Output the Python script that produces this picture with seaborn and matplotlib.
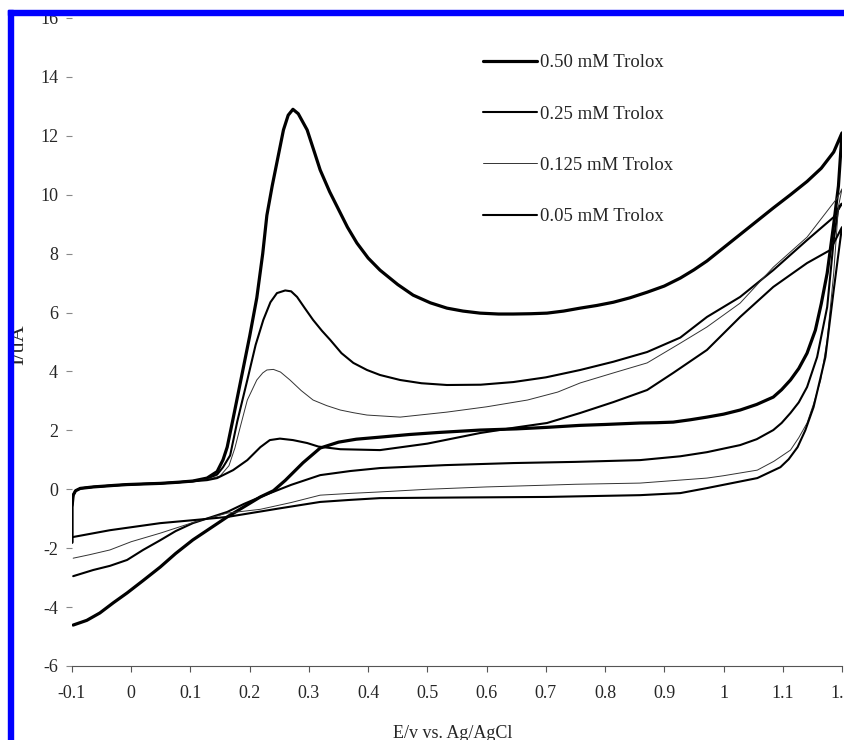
import matplotlib
matplotlib.use("Agg")
import matplotlib.pyplot as plt
import seaborn as sns
import pandas as pd
from matplotlib.lines import Line2D
from matplotlib.patches import Rectangle

sns.set_theme(style="white")
plt.rcParams['font.family'] = ['Liberation Serif', 'DejaVu Serif']

labels = ["0.50 mM Trolox", "0.25 mM Trolox", "0.125 mM Trolox", "0.05 mM Trolox"]

# 0.50 mM: forward (anodic) sweep then reverse
x050 = [-0.1, -0.1, -0.098, -0.094, -0.086, -0.064, -0.03, -0.007, 0.02, 0.049, 0.08, 0.104, 0.128, 0.145,
        0.155, 0.162, 0.172, 0.184, 0.2, 0.212, 0.222, 0.229, 0.238, 0.246, 0.257, 0.265, 0.273, 0.282,
        0.297, 0.31, 0.319, 0.335, 0.348, 0.365, 0.381, 0.40, 0.42, 0.45, 0.476, 0.505, 0.533, 0.56,
        0.589, 0.62, 0.645, 0.675, 0.702, 0.73, 0.758, 0.786, 0.814, 0.842, 0.871, 0.9, 0.927, 0.95,
        0.972, 1.0, 1.028, 1.056, 1.084, 1.113, 1.141, 1.165, 1.186, 1.2,
        1.194, 1.186, 1.175, 1.165, 1.155, 1.141, 1.127, 1.113, 1.098, 1.084, 1.056, 1.028, 1.0, 0.972,
        0.944, 0.915, 0.887, 0.859, 0.8, 0.758, 0.7, 0.65, 0.589, 0.52, 0.47, 0.42, 0.38, 0.35, 0.319,
        0.29, 0.26, 0.24, 0.218, 0.19, 0.162, 0.133, 0.104, 0.075, 0.049, 0.02, -0.007, -0.03, -0.053,
        -0.075, -0.098]
y050 = [-1.8, -0.6, -0.2, -0.05, 0.03, 0.08, 0.13, 0.16, 0.18, 0.2, 0.24, 0.28, 0.38, 0.6,
        1.0, 1.43, 2.4, 3.6, 5.2, 6.5, 8.0, 9.3, 10.3, 11.1, 12.2, 12.7, 12.9, 12.75,
        12.2, 11.4, 10.84, 10.1, 9.58, 8.9, 8.36, 7.85, 7.44, 6.95, 6.59, 6.33, 6.15, 6.05,
        5.98, 5.95, 5.95, 5.96, 5.98, 6.05, 6.15, 6.24, 6.35, 6.5, 6.69, 6.9, 7.17, 7.45,
        7.75, 8.2, 8.65, 9.1, 9.55, 10.0, 10.45, 10.9, 11.45, 12.1,
        10.3, 9.0, 7.34, 6.3, 5.4, 4.62, 4.1, 3.71, 3.38, 3.13, 2.88, 2.69, 2.55, 2.45,
        2.36, 2.28, 2.26, 2.25, 2.2, 2.17, 2.1, 2.05, 2.01, 1.93, 1.86, 1.77, 1.7, 1.6, 1.4,
        0.9, 0.3, -0.05, -0.26, -0.6, -0.94, -1.33, -1.72, -2.18, -2.64, -3.1, -3.52, -3.85, -4.2,
        -4.45, -4.61]

# 0.25 mM
x025 = [-0.1, -0.1, -0.098, -0.094, -0.086, -0.064, -0.03, -0.007, 0.02, 0.049, 0.08, 0.104, 0.128, 0.145,
        0.155, 0.167, 0.179, 0.196, 0.21, 0.223, 0.235, 0.246, 0.26, 0.27, 0.28, 0.293, 0.307, 0.322,
        0.336, 0.355, 0.375, 0.398, 0.42, 0.454, 0.49, 0.533, 0.59, 0.645, 0.7, 0.758, 0.814, 0.871,
        0.927, 0.972, 1.028, 1.084, 1.141, 1.186, 1.2,
        1.194, 1.186, 1.175, 1.158, 1.141, 1.127, 1.113, 1.098, 1.084, 1.056, 1.028, 0.972, 0.927, 0.859,
        0.75, 0.645, 0.53, 0.42, 0.37, 0.319, 0.27, 0.218, 0.19, 0.162, 0.133, 0.104, 0.075, 0.049, 0.02,
        -0.007, -0.036, -0.064, -0.098]
y025 = [-1.8, -0.6, -0.2, -0.05, 0.03, 0.08, 0.13, 0.16, 0.18, 0.2, 0.24, 0.28, 0.36, 0.5,
        0.75, 1.15, 2.3, 3.71, 4.9, 5.75, 6.35, 6.66, 6.75, 6.72, 6.53, 6.15, 5.75, 5.38,
        5.07, 4.62, 4.29, 4.05, 3.88, 3.71, 3.6, 3.54, 3.55, 3.64, 3.8, 4.05, 4.33, 4.66,
        5.15, 5.85, 6.53, 7.44, 8.46, 9.24, 9.7,
        9.58, 8.46, 6.19, 4.49, 3.47, 2.95, 2.59, 2.25, 2.01, 1.7, 1.5, 1.26, 1.12, 0.99,
        0.93, 0.89, 0.82, 0.72, 0.62, 0.48, 0.15, -0.26, -0.5, -0.77, -0.96, -1.15, -1.42, -1.73, -2.06,
        -2.4, -2.6, -2.74, -2.95]

# 0.125 mM
x0125 = [-0.1, -0.1, -0.098, -0.094, -0.086, -0.064, -0.03, -0.007, 0.02, 0.049, 0.08, 0.104, 0.128, 0.15,
         0.165, 0.175, 0.184, 0.196, 0.212, 0.222, 0.229, 0.24, 0.252, 0.268, 0.287, 0.307, 0.33, 0.353,
         0.375, 0.398, 0.454, 0.533, 0.6, 0.669, 0.72, 0.758, 0.814, 0.871, 0.927, 0.972, 1.028, 1.084,
         1.141, 1.192, 1.2,
         1.194, 1.186, 1.175, 1.164, 1.152, 1.141, 1.127, 1.113, 1.085, 1.057, 1.0, 0.972, 0.859, 0.75,
         0.702, 0.6, 0.5, 0.42, 0.37, 0.319, 0.27, 0.218, 0.162, 0.104, 0.049, 0.0, -0.036, -0.07, -0.098]
y0125 = [-1.8, -0.6, -0.2, -0.05, 0.03, 0.08, 0.13, 0.16, 0.18, 0.2, 0.24, 0.28, 0.33, 0.45,
         0.8, 1.4, 2.11, 3.03, 3.71, 3.95, 4.05, 4.07, 3.98, 3.71, 3.35, 3.03, 2.84, 2.69,
         2.6, 2.52, 2.45, 2.62, 2.8, 3.03, 3.3, 3.61, 3.95, 4.29, 4.96, 5.51, 6.32, 7.54,
         8.56, 9.89, 10.2,
         9.6, 7.34, 5.07, 3.71, 2.9, 2.25, 1.75, 1.33, 0.95, 0.65, 0.46, 0.38, 0.21, 0.17,
         0.14, 0.08, 0.0, -0.09, -0.14, -0.2, -0.45, -0.68, -0.81, -1.13, -1.49, -1.78, -2.06, -2.22, -2.34]

# 0.05 mM
x005 = [-0.1, -0.1, -0.098, -0.094, -0.086, -0.064, -0.03, -0.007, 0.02, 0.049, 0.08, 0.104, 0.128, 0.145,
        0.172, 0.196, 0.218, 0.234, 0.251, 0.273, 0.297, 0.316, 0.353, 0.42, 0.5, 0.589, 0.65, 0.702,
        0.758, 0.814, 0.871, 0.915, 0.972, 1.028, 1.084, 1.141, 1.18, 1.2,
        1.197, 1.186, 1.172, 1.152, 1.138, 1.125, 1.11, 1.096, 1.057, 0.972, 0.927, 0.859, 0.702, 0.55,
        0.42, 0.37, 0.319, 0.25, 0.162, 0.104, 0.049, -0.036, -0.098]
y005 = [-1.8, -0.6, -0.2, -0.05, 0.03, 0.08, 0.13, 0.16, 0.18, 0.2, 0.24, 0.27, 0.31, 0.38,
        0.65, 0.99, 1.43, 1.67, 1.72, 1.67, 1.57, 1.45, 1.36, 1.33, 1.55, 1.91, 2.1, 2.25,
        2.59, 2.96, 3.37, 3.95, 4.73, 5.85, 6.87, 7.68, 8.12, 8.9,
        8.46, 6.76, 4.49, 2.79, 2.0, 1.43, 1.02, 0.75, 0.38, 0.04, -0.13, -0.2, -0.26, -0.28,
        -0.3, -0.36, -0.43, -0.65, -0.94, -1.05, -1.15, -1.39, -1.62]

series = [(labels[0], x050, y050), (labels[1], x025, y025), (labels[2], x0125, y0125), (labels[3], x005, y005)]
styles = {labels[0]: dict(lw=2.3, color="black"),
          labels[1]: dict(lw=1.5, color="black"),
          labels[2]: dict(lw=0.7, color="#333333"),
          labels[3]: dict(lw=1.5, color="black")}

fig = plt.figure(figsize=(8.44, 7.40), dpi=100)
ax = fig.add_axes([72/844, (740-666)/740, (842-72)/844, (666-18)/740])

for name, xs, ys in series:
    df = pd.DataFrame({"E": xs, "I": ys, "step": range(len(xs))})
    sns.lineplot(data=df, x="E", y="I", sort=False, estimator=None, ax=ax,
                 color=styles[name]["color"], linewidth=styles[name]["lw"], legend=False)

ax.set_xlim(-0.1, 1.2)
ax.set_ylim(-6, 16)
ax.set_xticks([-0.1, 0, 0.1, 0.2, 0.3, 0.4, 0.5, 0.6, 0.7, 0.8, 0.9, 1.0, 1.1, 1.2])
ax.set_xticklabels(["-0.1", "0", "0.1", "0.2", "0.3", "0.4", "0.5", "0.6", "0.7", "0.8", "0.9", "1", "1.1", "1.2"])
ax.set_yticks(range(-6, 17, 2))
ax.set_yticklabels([str(v) for v in range(-6, 17, 2)])
ax.set_xlabel("")
ax.set_ylabel("")
for s in ["top", "right", "left"]:
    ax.spines[s].set_visible(False)
ax.spines["bottom"].set_color("#555555")
ax.spines["bottom"].set_linewidth(0.8)
ax.tick_params(axis="x", direction="out", length=4, width=0.8, color="#555555", pad=10, labelsize=13, bottom=True)
ax.tick_params(axis="y", direction="out", length=4, width=0.8, color="#888888", pad=6, labelsize=13, left=True)
ax.set_facecolor("white")
ax.patch.set_alpha(0)
for lab in ax.get_xticklabels() + ax.get_yticklabels():
    lab.set_clip_on(False)

handles = [Line2D([], [], color=styles[n]["color"], lw=styles[n]["lw"]) for n in labels]
leg = ax.legend(handles, labels, loc="upper left", bbox_to_anchor=(483/844, 1 - 54/740),
                bbox_transform=fig.transFigure, frameon=False, fontsize=13.5, handlelength=2.9,
                handletextpad=0.12, labelspacing=1.83, borderpad=0, borderaxespad=0)

fig.text(23/844, 1 - 345/740, "I/uA", rotation=90, rotation_mode="anchor",
         ha="center", va="baseline", fontsize=16)
fig.text(453/844, 1 - 734/740, "E/v vs. Ag/AgCl", ha="center", va="center", fontsize=13)

# blue frame edges
fig.patches.append(Rectangle((8/844, 0), 5.5/844, 1 - 10/740, transform=fig.transFigure,
                             color="#0000ff", zorder=10))
fig.patches.append(Rectangle((8/844, 1 - 15/740), 1, 5/740, transform=fig.transFigure,
                             color="#0000ff", zorder=10))

fig.savefig("out.png", dpi=100, facecolor="white")
